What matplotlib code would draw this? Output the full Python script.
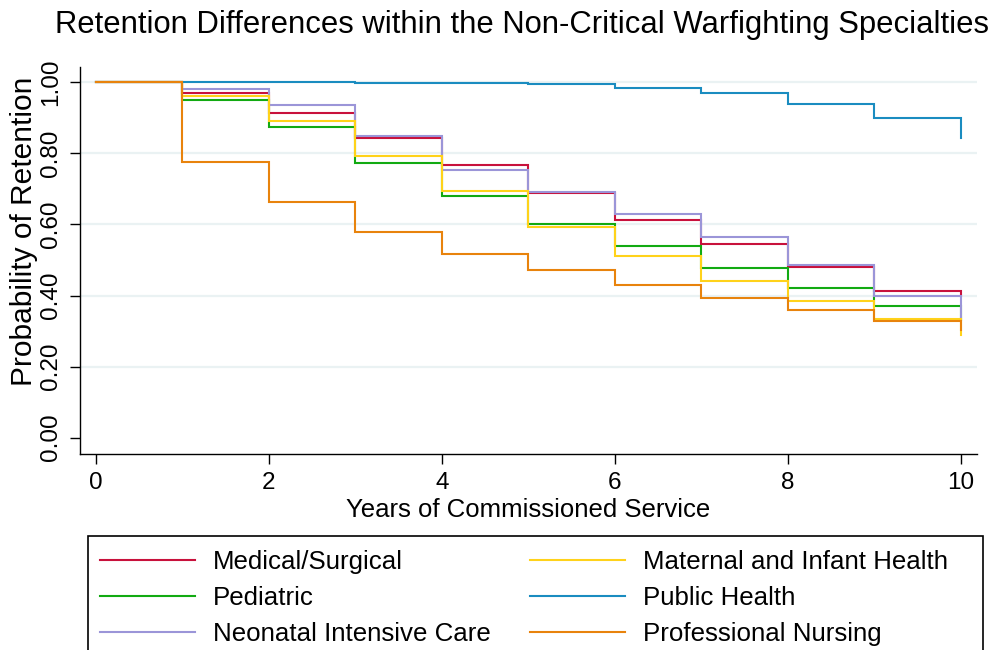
import matplotlib
matplotlib.use("Agg")
import matplotlib.pyplot as plt
from matplotlib.patches import Rectangle

# Survival (retention) estimates at the start of each service year, 0..10
years = [0, 1, 2, 3, 4, 5, 6, 7, 8, 9, 10]

medical_surgical = [1.000, 0.970, 0.915, 0.843, 0.766, 0.688, 0.612, 0.544, 0.481, 0.413, 0.400]
pediatric = [1.000, 0.951, 0.875, 0.773, 0.680, 0.602, 0.539, 0.478, 0.421, 0.370, 0.330]
neonatal_icu = [1.000, 0.981, 0.937, 0.850, 0.752, 0.690, 0.629, 0.564, 0.487, 0.398, 0.335]
maternal_infant = [1.000, 0.962, 0.892, 0.794, 0.694, 0.594, 0.511, 0.442, 0.385, 0.334, 0.289]
public_health = [1.000, 1.000, 1.000, 0.998, 0.997, 0.994, 0.985, 0.971, 0.940, 0.899, 0.843]
professional_nursing = [1.000, 0.777, 0.664, 0.580, 0.517, 0.471, 0.429, 0.392, 0.359, 0.329, 0.303]

series_names = [
    "Medical/Surgical",
    "Pediatric",
    "Neonatal Intensive Care",
    "Maternal and Infant Health",
    "Public Health",
    "Professional Nursing",
]
series_values = [
    medical_surgical,
    pediatric,
    neonatal_icu,
    maternal_infant,
    public_health,
    professional_nursing,
]
series_colors = ["#C8113C", "#12AA12", "#9B95D8", "#FFD21A", "#1A8CC0", "#E8830C"]

x_ticks = [0, 2, 4, 6, 8, 10]
y_ticks = [0.0, 0.2, 0.4, 0.6, 0.8, 1.0]

plt.rcParams["font.family"] = ["Liberation Sans", "DejaVu Sans"]

W, H = 1003, 650
fig = plt.figure(figsize=(W / 100, H / 100), dpi=100)
ax = fig.add_axes([80 / W, 1 - 454 / H, 897 / W, (454 - 66.7) / H])

for name, vals, col in zip(series_names, series_values, series_colors):
    ax.plot(years, vals, drawstyle="steps-post", color=col, lw=1.5, label=name,
            solid_joinstyle="miter")

ax.set_xlim(-0.185, 10.19)
ax.set_ylim(-0.046, 1.044)

ax.set_xticks(x_ticks)
ax.set_yticks(y_ticks)
ax.set_yticklabels([f"{v:.2f}" for v in y_ticks], rotation=90, va="center")
ax.tick_params(axis="both", direction="out", length=7, width=1.0, colors="black",
               labelsize=17.5)
ax.tick_params(axis="x", pad=6)
ax.tick_params(axis="y", pad=6)

# light horizontal grid (no line at zero)
for gy in y_ticks[1:]:
    ax.axhline(gy, color="#EAF2F3", lw=1.6, zorder=0)

for side in ("top", "right"):
    ax.spines[side].set_visible(False)
for side in ("left", "bottom"):
    ax.spines[side].set_linewidth(1.0)

ax.set_xlabel("Years of Commissioned Service", fontsize=18.5, labelpad=3)
ax.set_ylabel("Probability of Retention", fontsize=21.5)
ax.yaxis.set_label_coords(-0.047, 0.576)

fig.text(522 / W, 1 - 32.5 / H,
         "Retention Differences within the Non-Critical Warfighting Specialties",
         ha="center", va="baseline", fontsize=22.3)

# legend frame runs off the bottom edge of the figure
fig.patches.append(Rectangle((88 / W, -0.05), (983 - 88) / W, (1 - 536 / H) + 0.05,
                             transform=fig.transFigure, facecolor="white",
                             edgecolor="black", lw=1.2, zorder=1))

leg = fig.legend(loc="upper left", bbox_to_anchor=(100 / W, 1 - 550 / H), ncol=2,
                 fontsize=18.6, frameon=False,
                 handlelength=3.68, handletextpad=0.7, columnspacing=1.5,
                 labelspacing=0.46, borderpad=0.0, borderaxespad=0.0)
leg.set_zorder(2)

fig.savefig("out.png", dpi=100, facecolor="white")
